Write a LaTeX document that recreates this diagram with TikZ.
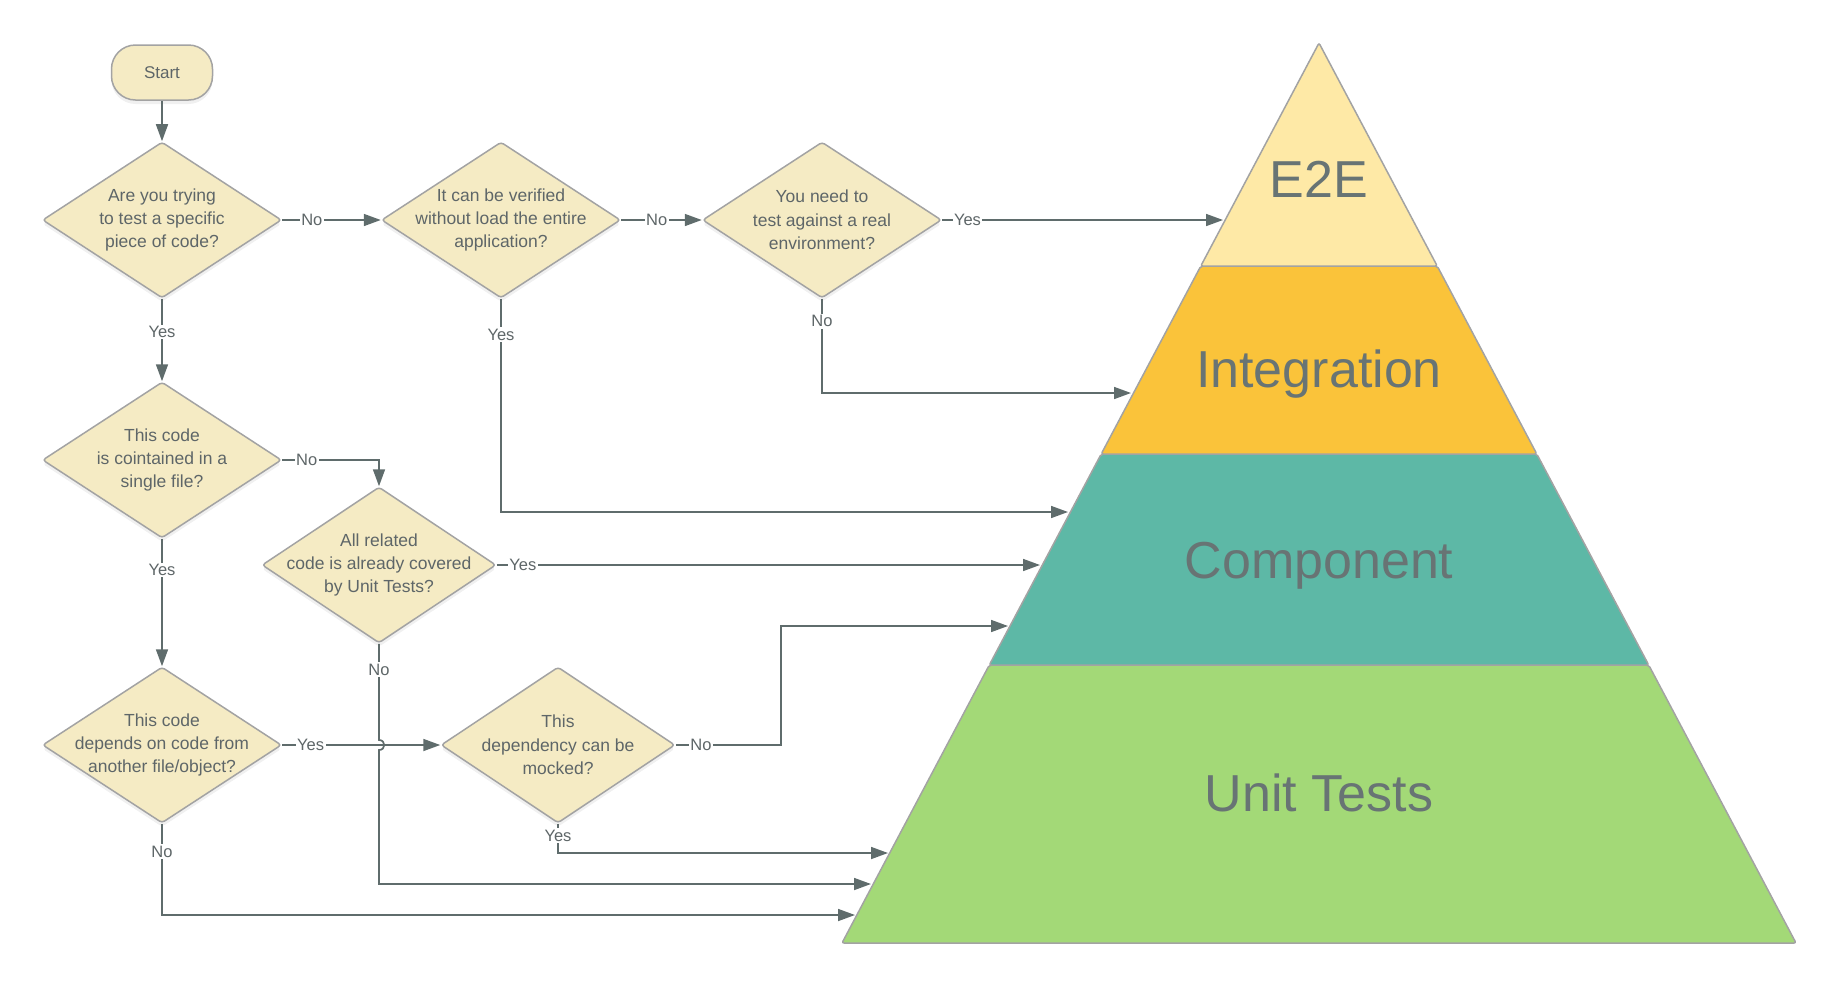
\documentclass[tikz,border=0pt]{standalone}
\usepackage{fontspec}
\setmainfont{Liberation Sans}
\usetikzlibrary{shapes.geometric,arrows.meta,shadows}

\definecolor{qfill}{HTML}{F5EBC4}
\definecolor{qline}{HTML}{A3A3A3}
\definecolor{txtgray}{HTML}{5E6668}
\definecolor{flowc}{HTML}{5F6C6C}
\definecolor{e2ec}{HTML}{FEE9A6}
\definecolor{intc}{HTML}{FAC33A}
\definecolor{compc}{HTML}{5DB8A6}
\definecolor{unitc}{HTML}{A3D977}
\definecolor{pyrtext}{HTML}{687474}

\begin{document}
\begin{tikzpicture}[x=1pt,y=-1pt]
    \tikzstyle{decision}=[diamond, draw=qline, fill=qfill, line width=1.5pt, inner sep=0pt, minimum width=239pt, minimum height=156pt, rounded corners=3pt, drop shadow={shadow xshift=0pt, shadow yshift=-4pt, opacity=0.12}]
    \tikzstyle{startbox}=[rectangle, draw=qline, fill=qfill, line width=1.5pt, rounded corners=24pt, minimum width=101pt, minimum height=55pt, font=\fontsize{17}{20}\selectfont, text=txtgray, drop shadow={shadow xshift=0pt, shadow yshift=-4pt, opacity=0.12}]
    \tikzstyle{qlabel}=[align=center, inner sep=0pt, font=\fontsize{17.5}{23.3}\selectfont, text=txtgray]
    \tikzstyle{ans}=[fill=white, inner sep=1.5pt, font=\fontsize{16.5}{18}\selectfont, text=txtgray]
    \tikzstyle{flow}=[draw=flowc, line width=1.7pt, -{Triangle[length=17pt,width=12pt]}]
    \tikzstyle{band}=[draw=qline, line width=1.5pt, rounded corners=2pt]
    \tikzstyle{pyrlabel}=[anchor=base, font=\fontsize{52}{60}\selectfont, text=pyrtext]

    \useasboundingbox (0,0) rectangle (1840,986);

    % pyramid
    \draw[band, fill=unitc] (989.3,665) -- (842,943) -- (1796,943) -- (1648.7,665) -- cycle;
    \draw[band, fill=compc] (1101.2,454) -- (989.3,665) -- (1648.7,665) -- (1536.8,454) -- cycle;
    \draw[band, fill=intc] (1200.8,266) -- (1101.2,454) -- (1536.8,454) -- (1437.2,266) -- cycle;
    \draw[band, fill=e2ec] (1319,43) -- (1200.8,266) -- (1437.2,266) -- cycle;
    \node[pyrlabel] (e2e) at (1319,197) {E2E};
    \node[pyrlabel] (integration) at (1319,387) {Integration};
    \node[pyrlabel] (component) at (1319,578) {Component};
    \node[pyrlabel] (unittests) at (1319,811) {Unit Tests};

    % where the arrows meet the pyramid
    \coordinate (toE2E) at (1223,220);
    \coordinate (toInt) at (1131,393);
    \coordinate (toCompA) at (1068,512);
    \coordinate (toCompB) at (1040,565);
    \coordinate (toCompC) at (1008,626);
    \coordinate (toUnitA) at (888,853);
    \coordinate (toUnitB) at (871,884);
    \coordinate (toUnitC) at (855,915);

    % flowchart
    \node[startbox] (start) at (162,72.5) {Start};
    \node[decision, label={[qlabel]center:{Are you trying\\to test a specific\\piece of code?}}] (q1) at (162,220) {};
    \node[decision, label={[qlabel]center:{It can be verified\\without load the entire\\application?}}] (q2) at (501,220) {};
    \node[decision, label={[qlabel]center:{You need to\\test against a real\\environment?}}] (q3) at (822,220) {};
    \node[decision, label={[qlabel]center:{This code\\is cointained in a\\single file?}}] (q4) at (162,460) {};
    \node[decision, minimum width=234pt, label={[qlabel]center:{All related\\code is already covered\\by Unit Tests?}}] (q5) at (379,565) {};
    \node[decision, label={[qlabel]center:{This code\\depends on code from\\another file/object?}}] (q6) at (162,745) {};
    \node[decision, minimum width=234pt, label={[qlabel]center:{This\\dependency can be\\mocked?}}] (q7) at (558,745) {};

    \draw[flow] (start) -- (q1);
    \draw[flow] (q1.east) -- node[ans, pos=0.3] {No} (q2.west);
    \draw[flow] (q2.east) -- node[ans, pos=0.44] {No} (q3.west);
    \draw[flow] (q3.east) -- node[ans, pos=0.09] {Yes} (toE2E);
    \draw[flow] (q3.south) |- node[ans, pos=0.12] {No} (toInt);
    \draw[flow] (q1.south) -- node[ans, pos=0.4] {Yes} (q4.north);
    \draw[flow] (q2.south) |- node[ans, pos=0.084] {Yes} (toCompA);
    \draw[flow] (q4.east) -| node[ans, pos=0.126] {No} (q5.north);
    \draw[flow] (q4.south) -- node[ans, pos=0.246] {Yes} (q6.north);
    \draw[flow] (q5.east) -- node[ans, pos=0.048] {Yes} (toCompB);
    \draw[flow] (q6.east) -- node[ans, pos=0.18] {Yes} (q7.west);
    \draw[flow] (q7.east) -- node[ans, pos=0.24] {No} ++(105,0) |- (toCompC);
    \draw[flow] (q7.south) |- node[ans, pos=0.2] {Yes} (toUnitA);
    \draw[flow] (q5.south) -- node[ans, pos=0.27] {No} (q5.south |- 0,740) .. controls (386,740) and (386,750) .. (379,750) |- (toUnitB);
    \draw[flow] (q6.south) |- node[ans, pos=0.152] {No} (toUnitC);
\end{tikzpicture}
\end{document}
